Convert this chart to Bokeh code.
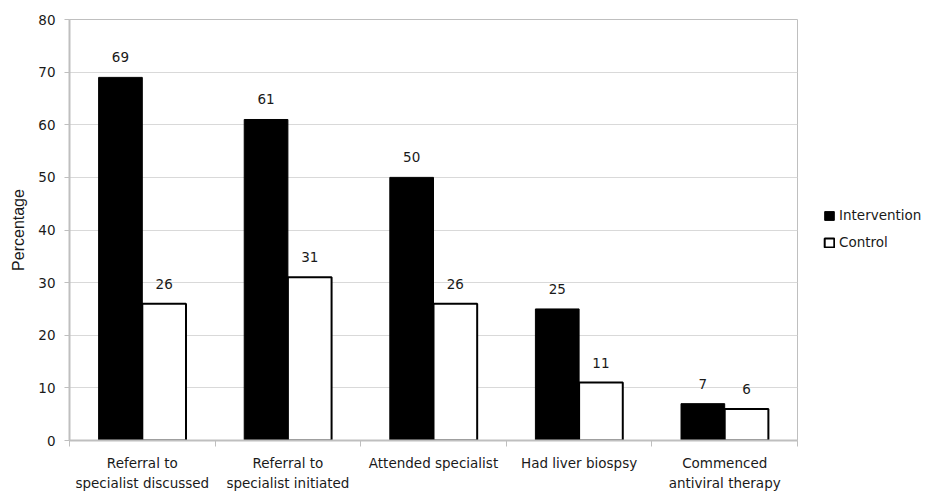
from bokeh.plotting import figure
from bokeh.models import Range1d, FixedTicker, Legend, LegendItem, ColumnDataSource
from bokeh.embed import file_html
from bokeh.resources import INLINE

categories = ["Referral to\nspecialist discussed", "Referral to\nspecialist initiated",
              "Attended specialist", "Had liver biospsy", "Commenced\nantiviral therapy"]
intervention = [69, 61, 50, 25, 7]
control = [26, 31, 26, 11, 6]
series = ["Intervention", "Control"]
y_ticks = [0, 10, 20, 30, 40, 50, 60, 70, 80]

n = len(categories)
centers = [i + 0.5 for i in range(n)]
bw = 0.3
src_i = ColumnDataSource(dict(x=[c - bw / 2 for c in centers], top=intervention,
                              lab=[str(v) for v in intervention]))
src_c = ColumnDataSource(dict(x=[c + bw / 2 for c in centers], top=control,
                              lab=[str(v) for v in control]))

FONT = "DejaVu Sans"
TXT = "#1a1a1a"
GRID = "#d9d9d9"
AX = "#bfbfbf"

p = figure(frame_width=728, frame_height=421, x_range=Range1d(0, n), y_range=Range1d(0, 80),
           output_backend="svg", toolbar_location=None,
           min_border_left=69, min_border_top=19, min_border_bottom=54, min_border_right=127)
p.outline_line_color = AX
p.outline_line_width = 1

r_i = p.vbar(x="x", top="top", width=bw, bottom=0, source=src_i,
             fill_color="black", line_color="black", line_width=1)
r_c = p.vbar(x="x", top="top", width=bw, bottom=0, source=src_c,
             fill_color="white", line_color="black", line_width=2)

for s in (src_i, src_c):
    p.text(x="x", y="top", text="lab", source=s, text_align="center",
           text_baseline="middle", y_offset=-20, text_font_size="13.5px",
           text_color=TXT, text_font={"value": FONT})

# y axis
p.yaxis.ticker = FixedTicker(ticks=y_ticks)
p.yaxis.axis_label = "Percentage"
p.yaxis.axis_label_text_font = "Liberation Sans"
p.yaxis.axis_label_text_font_style = "normal"
p.yaxis.axis_label_text_font_size = "16px"
p.yaxis.axis_label_text_color = TXT
p.yaxis.axis_label_standoff = 8
p.yaxis.major_label_text_font = FONT
p.yaxis.major_label_text_font_size = "13.5px"
p.yaxis.major_label_text_color = TXT
p.yaxis.major_label_standoff = 9
p.yaxis.axis_line_color = AX
p.yaxis.axis_line_width = 2
p.yaxis.major_tick_line_color = AX
p.yaxis.major_tick_out = 5
p.yaxis.major_tick_in = 0
p.yaxis.minor_tick_line_color = None

# x axis
p.xaxis.ticker = FixedTicker(ticks=centers, minor_ticks=list(range(n + 1)))
p.xaxis.major_label_overrides = {c: lab for c, lab in zip(centers, categories)}
p.xaxis.major_label_text_font = FONT
p.xaxis.major_label_text_font_size = "13.5px"
p.xaxis.major_label_text_color = TXT
p.xaxis.major_label_text_line_height = 1.25
p.xaxis.major_label_standoff = 8
p.xaxis.major_tick_line_color = None
p.xaxis.major_tick_out = 0
p.xaxis.major_tick_in = 0
p.xaxis.minor_tick_line_color = AX
p.xaxis.minor_tick_out = 6
p.xaxis.minor_tick_in = 0
p.xaxis.axis_line_color = AX
p.xaxis.axis_line_width = 2

p.xgrid.grid_line_color = None
p.ygrid.grid_line_color = GRID
p.ygrid.grid_line_width = 1

legend = Legend(items=[LegendItem(label=series[0], renderers=[r_i]),
                       LegendItem(label=series[1], renderers=[r_c])],
                location=(26, 190), padding=0, margin=0, spacing=11,
                glyph_width=12, glyph_height=11, label_height=16, label_standoff=4,
                label_text_font=FONT, label_text_font_size="13.5px",
                label_text_color=TXT, border_line_color=None, background_fill_alpha=0)
p.add_layout(legend, "right")

open("out.html", "w").write(file_html(p, INLINE))
